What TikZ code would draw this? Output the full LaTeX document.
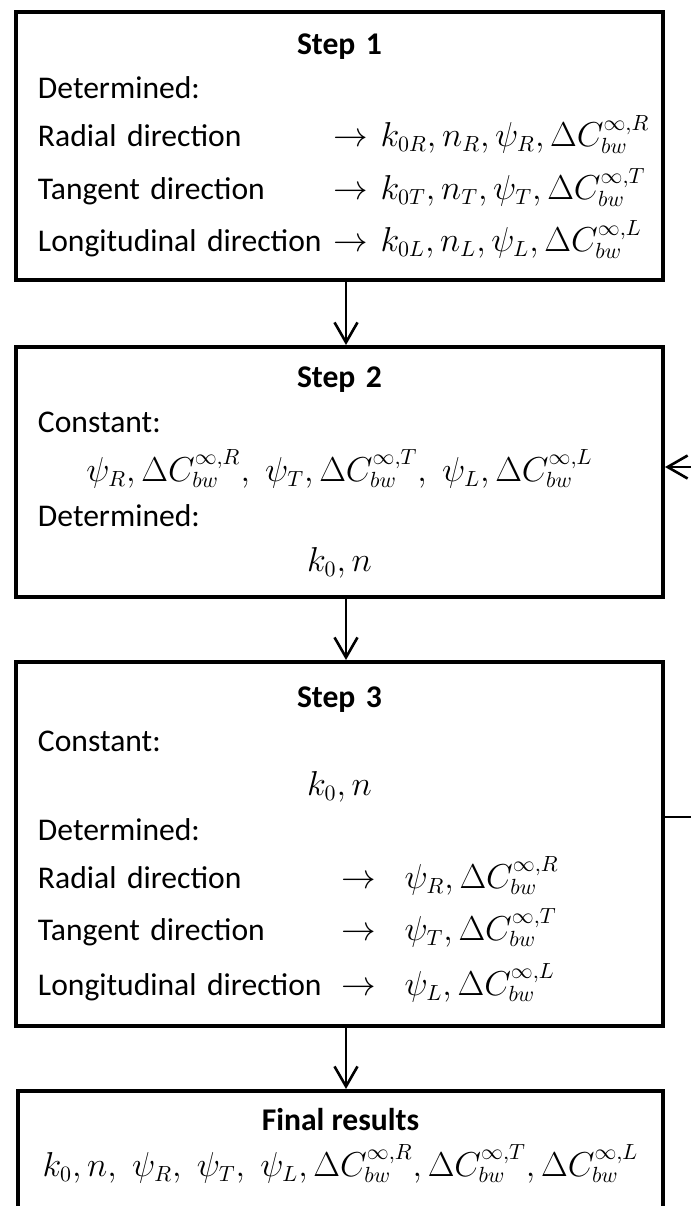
\documentclass[tikz,border=0pt]{standalone}
\usepackage{fontspec}
\setmainfont{Carlito}
\usetikzlibrary{arrows.meta, positioning}
\DeclareMathSizes{15.8}{16.3}{11.4}{8.2}
\tikzstyle{stepbox} = [rectangle, draw=black, line width=2pt, minimum width=323.5pt, text width=301.5pt, inner xsep=11pt, inner ysep=0pt, align=left, font=\fontsize{15.8}{22}\selectfont]
\tikzstyle{finalbox} = [rectangle, draw=black, line width=2pt, minimum width=322.5pt, minimum height=70pt, inner sep=0pt, align=center, font=\fontsize{15.8}{20}\selectfont]
\tikzstyle{arrow} = [line width=1.3pt, -{Straight Barb[length=10pt, width=11.5pt]}]
\newcommand{\midline}[1]{\makebox[\hsize]{#1}}
\newcommand{\dirline}[3]{\makebox[\hsize][l]{\makebox[#1][l]{#2}$\rightarrow$#3}}

\begin{document}
\begin{tikzpicture}[node distance=163pt]
    \useasboundingbox (0,0) rectangle (345.5pt,-603pt);

    % Boxes
    \node (s1) [stepbox, minimum height=134pt] at (169.75pt,-73pt) {%
        \midline{\bfseries Step 1}\\
        Determined:\\[2pt]
        \dirline{148pt}{Radial direction}{\hspace{6pt}$k_{0R}, n_R, \psi_R, \Delta C^{\infty,R}_{bw}$}\\[4.5pt]
        \dirline{148pt}{Tangent direction}{\hspace{6pt}$k_{0T}, n_T, \psi_T, \Delta C^{\infty,T}_{bw}$}\\[4pt]
        \dirline{148pt}{Longitudinal direction}{\hspace{6pt}$k_{0L}, n_L, \psi_L, \Delta C^{\infty,L}_{bw}$}};
    \node (s2) [stepbox, minimum height=125pt, below of=s1] {%
        \midline{\bfseries Step 2}\\[0.5pt]
        Constant:\\[2.5pt]
        \midline{$\psi_R, \Delta C^{\infty,R}_{bw},\; \psi_T, \Delta C^{\infty,T}_{bw},\; \psi_L, \Delta C^{\infty,L}_{bw}$}\\[0.5pt]
        Determined:\\[0.5pt]
        \midline{$k_0, n$}};
    \node (s3) [stepbox, minimum height=182pt, below of=s2, yshift=-23pt] {%
        \midline{\bfseries Step 3}\\
        Constant:\\
        \midline{$k_0, n$}\\[0.5pt]
        Determined:\\[2pt]
        \dirline{152pt}{Radial direction}{\hspace{14pt}$\psi_R, \Delta C^{\infty,R}_{bw}$}\\[4pt]
        \dirline{152pt}{Tangent direction}{\hspace{14pt}$\psi_T, \Delta C^{\infty,T}_{bw}$}\\[5.5pt]
        \dirline{152pt}{Longitudinal direction}{\hspace{14pt}$\psi_L, \Delta C^{\infty,L}_{bw}$}};
    \node (res) [finalbox, below of=s3, yshift=4.5pt, xshift=0.5pt] {%
        \textbf{Final results}\\[3pt]
        $k_0, n,\; \psi_R,\; \psi_T,\; \psi_L, \Delta C^{\infty,R}_{bw}, \Delta C^{\infty,T}_{bw}, \Delta C^{\infty,L}_{bw}$\rule[-19pt]{0pt}{19pt}};

    % Arrows
    \draw [arrow] ([xshift=3.25pt]s1.south) -- ([xshift=3.25pt]s2.north);
    \draw [arrow] ([xshift=3.25pt]s2.south) -- ([xshift=3.25pt]s3.north);
    \draw [arrow] ([xshift=3.25pt]s3.south) -- ([xshift=2.75pt]res.north);
    \draw [arrow] ([yshift=13.5pt]s3.east) -- ++(20pt,0) |- ([yshift=2.5pt]s2.east);
\end{tikzpicture}
\end{document}
